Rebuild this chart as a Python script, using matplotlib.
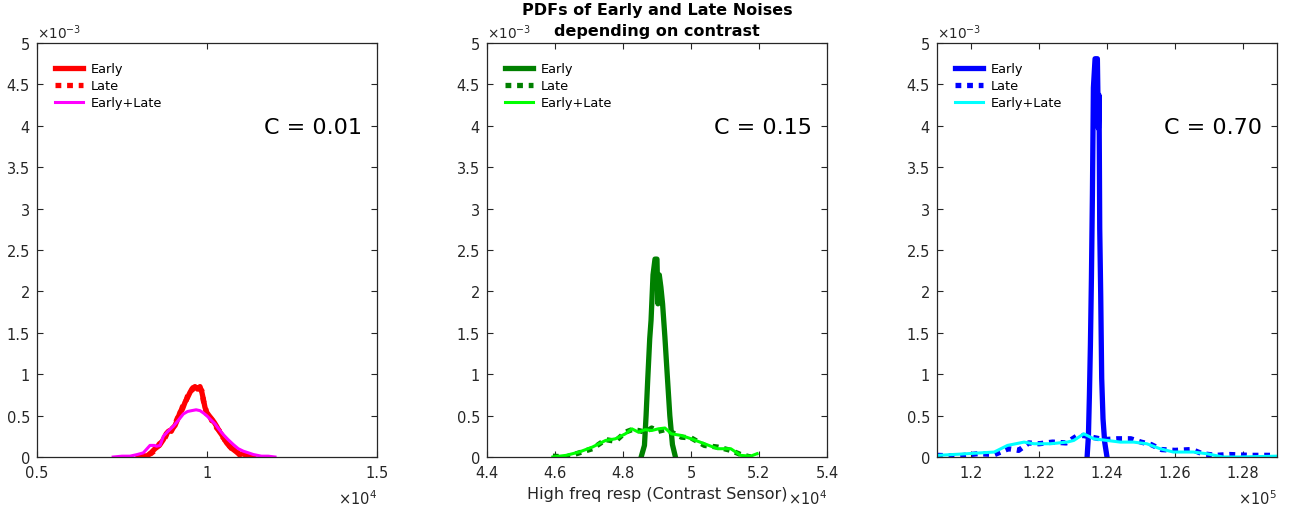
import matplotlib
matplotlib.use("Agg")
import matplotlib.pyplot as plt
import numpy as np
from matplotlib.ticker import FuncFormatter, MultipleLocator

# ---- data (pdf values in units of 1e-3) ----
# C = 0.01
c1_early_x = [7980, 8100, 8226, 8350, 8471, 8600, 8716, 8800, 8863, 8950, 9059, 9130, 9206, 9280,
              9353, 9430, 9500, 9570, 9647, 9720, 9794, 9850, 9892, 9940, 9990, 10060, 10137, 10210,
              10284, 10360, 10431, 10500, 10578, 10680, 10775, 10870, 10971, 11070, 11167, 11260, 11363]
c1_early_y = [0.00, 0.02, 0.01, 0.05, 0.10, 0.14, 0.21, 0.28, 0.31, 0.33, 0.38, 0.45, 0.54, 0.58,
              0.66, 0.72, 0.78, 0.83, 0.85, 0.82, 0.85, 0.78, 0.70, 0.60, 0.54, 0.50, 0.46, 0.42,
              0.37, 0.31, 0.27, 0.22, 0.17, 0.12, 0.09, 0.06, 0.03, 0.04, 0.01, 0.02, 0.00]
c1_late_y = [0.01, 0.00, 0.03, 0.04, 0.08, 0.16, 0.19, 0.26, 0.33, 0.31, 0.40, 0.47, 0.52, 0.61,
             0.64, 0.74, 0.80, 0.81, 0.87, 0.84, 0.82, 0.80, 0.68, 0.62, 0.52, 0.52, 0.44, 0.43,
             0.35, 0.32, 0.25, 0.23, 0.15, 0.13, 0.07, 0.07, 0.02, 0.03, 0.02, 0.00, 0.01]
c1_sum_x = [7240, 7500, 7735, 7950, 8127, 8324, 8450, 8520, 8620, 8716, 8850, 9010, 9150, 9304,
            9430, 9549, 9680, 9794, 9900, 9990, 10110, 10235, 10360, 10480, 10620, 10775, 10920,
            11069, 11220, 11363, 11600, 11800, 12000]
c1_sum_y = [0.00, 0.01, 0.01, 0.03, 0.05, 0.14, 0.14, 0.13, 0.14, 0.25, 0.31, 0.37, 0.44, 0.52,
            0.55, 0.56, 0.57, 0.56, 0.53, 0.50, 0.45, 0.40, 0.33, 0.27, 0.21, 0.15, 0.10,
            0.07, 0.05, 0.03, 0.01, 0.01, 0.00]

# C = 0.15
c2_early_x = [48534, 48631, 48679, 48728, 48786, 48825, 48883, 48941, 48999, 49028, 49067, 49115,
              49164, 49232, 49300, 49377, 49454, 49542]
c2_early_y = [0.00, 0.14, 0.50, 0.94, 1.43, 1.65, 2.20, 2.39, 2.39, 1.85, 2.20, 2.05,
              1.85, 1.45, 1.00, 0.50, 0.15, 0.00]
c2_sum_x = [45936, 46326, 46712, 47100, 47488, 47778, 48070, 48262, 48456, 48651, 48843, 49038,
            49233, 49424, 49715, 50006, 50395, 50782, 51169, 51460, 51750, 51945]
c2_sum_y = [0.00, 0.02, 0.06, 0.12, 0.20, 0.22, 0.28, 0.34, 0.30, 0.33, 0.32, 0.34,
            0.35, 0.28, 0.26, 0.22, 0.16, 0.10, 0.10, 0.02, 0.01, 0.04]
c2_late_y = [0.01, 0.00, 0.05, 0.10, 0.21, 0.19, 0.30, 0.33, 0.32, 0.30, 0.35, 0.31,
             0.33, 0.30, 0.24, 0.23, 0.14, 0.12, 0.08, 0.03, 0.00, 0.03]

# C = 0.70
c3_early_x = [123415, 123454, 123483, 123512, 123542, 123571, 123600, 123649, 123717, 123747,
              123766, 123786, 123815, 123844, 123883, 123932, 124000]
c3_early_y = [0.00, 0.26, 0.75, 1.35, 2.16, 3.17, 4.46, 4.81, 4.81, 3.97,
              4.37, 2.76, 1.96, 0.95, 0.46, 0.18, 0.00]
c3_late_x = [119000, 119600, 120200, 120700, 121100, 121400, 121700, 122000, 122400, 122800,
             123100, 123300, 123550, 123900, 124300, 124700, 125000, 125300, 125600, 126000,
             126500, 126800, 127200, 127600, 128200, 128900]
c3_late_y = [0.02, 0.01, 0.04, 0.03, 0.10, 0.08, 0.17, 0.16, 0.18, 0.17,
             0.25, 0.26, 0.24, 0.21, 0.22, 0.22, 0.18, 0.15, 0.09, 0.08,
             0.09, 0.04, 0.02, 0.03, 0.02, 0.02]
c3_sum_x = [119025, 119903, 120683, 121074, 121560, 121853, 122341, 122829, 123024, 123316,
            123609, 124000, 124390, 124779, 125170, 125560, 125950, 126535, 126925, 127413,
            127900, 128975]
c3_sum_y = [0.02, 0.04, 0.06, 0.14, 0.18, 0.16, 0.16, 0.18, 0.20, 0.28,
            0.22, 0.20, 0.18, 0.18, 0.16, 0.10, 0.06, 0.06, 0.04, 0.00,
            0.00, 0.01]

contrast_labels = ["C = 0.01", "C = 0.15", "C = 0.70"]
title_lines = ["PDFs of Early and Late Noises", "depending on contrast"]

TXT = "#262626"
plt.rcParams["font.family"] = "DejaVu Sans"

fig = plt.figure(figsize=(12.9, 5.1), dpi=100)
fig.patch.set_facecolor("white")

lefts = [37 / 1290, 487 / 1290, 937 / 1290]
width = 340 / 1290
bottom = 52 / 510
height = 414 / 510

panels = [
    dict(xe=c1_early_x, ye=c1_early_y, xl=c1_early_x, yl=c1_late_y, xs=c1_sum_x, ys=c1_sum_y,
         dark="#ff0000", light="#ff00ff", xlim=(5000, 15000), xstep=5000, pw=4),
    dict(xe=c2_early_x, ye=c2_early_y, xl=c2_sum_x, yl=c2_late_y, xs=c2_sum_x, ys=c2_sum_y,
         dark="#008000", light="#00ff00", xlim=(44000, 54000), xstep=2000, pw=4),
    dict(xe=c3_early_x, ye=c3_early_y, xl=c3_late_x, yl=c3_late_y, xs=c3_sum_x, ys=c3_sum_y,
         dark="#0000ff", light="#00ffff", xlim=(119000, 129000), xstep=2000, pw=5),
]

for i, p in enumerate(panels):
    ax = fig.add_axes([lefts[i], bottom, width, height])
    ax.plot(p["xe"], np.array(p["ye"]) * 1e-3, color=p["dark"], lw=3.8, label="Early")
    ax.plot(p["xl"], np.array(p["yl"]) * 1e-3, color=p["dark"], lw=3.8,
            linestyle=(0, (1.1, 1.1)), dash_capstyle="butt", label="Late")
    ax.plot(p["xs"], np.array(p["ys"]) * 1e-3, color=p["light"], lw=2.2, label="Early+Late")

    ax.set_xlim(*p["xlim"])
    ax.set_ylim(0, 0.005)
    ax.xaxis.set_major_locator(MultipleLocator(p["xstep"]))
    ax.yaxis.set_major_locator(MultipleLocator(0.0005))
    pw = p["pw"]
    ax.xaxis.set_major_formatter(FuncFormatter(lambda v, pos, pw=pw: f"{round(v / 10 ** pw, 4):g}"))
    ax.yaxis.set_major_formatter(FuncFormatter(lambda v, pos: f"{round(v / 1e-3, 4):g}"))
    ax.tick_params(direction="in", top=True, right=True, length=4, width=0.8,
                   colors=TXT, labelsize=10.5)
    ax.tick_params(axis="x", pad=6)
    ax.tick_params(axis="y", pad=5)
    for s in ax.spines.values():
        s.set_color(TXT)
        s.set_linewidth(0.9)

    ax.text(0.0, 1.004, r"$\times10^{-3}$", transform=ax.transAxes, ha="left", va="bottom",
            fontsize=9.8, color=TXT)
    ax.text(1.0, -0.097, r"$\times10^{%d}$" % pw, transform=ax.transAxes, ha="right",
            va="center", fontsize=10.5, color=TXT)
    ax.text(0.955, 0.797, contrast_labels[i], transform=ax.transAxes, ha="right",
            va="center", fontsize=16, color="black")

    ax.legend(loc="upper left", bbox_to_anchor=(0.045, 0.96), frameon=False, fontsize=9.3,
              handlelength=2.2, handletextpad=0.55, labelspacing=0.32, borderpad=0.2,
              borderaxespad=0)

    if i == 1:
        ax.set_xlabel("High freq resp (Contrast Sensor)", fontsize=11.5, color=TXT, labelpad=4)
        # two-line title, drawn as two texts (line centres at ~12 px and ~32 px from the top)
        ax.text(0.5, 1 + 34 / 414, title_lines[0], transform=ax.transAxes, ha="center",
                va="center", fontsize=11.5, fontweight="bold", color="black")
        ax.text(0.5, 1 + 13 / 414, title_lines[1], transform=ax.transAxes, ha="center",
                va="center", fontsize=11.5, fontweight="bold", color="black")

fig.savefig("out.png", dpi=100, facecolor="white")
